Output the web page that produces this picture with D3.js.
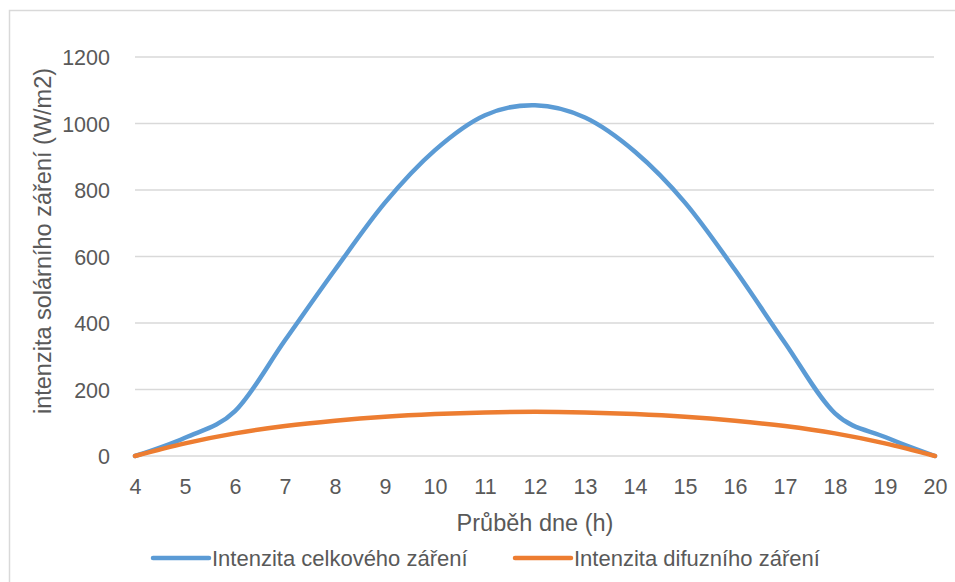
<!DOCTYPE html>
<html>
<head>
<meta charset="utf-8">
<script src="https://cdn.jsdelivr.net/npm/d3@7"></script>
<style>
  html, body { margin: 0; padding: 0; background: #fff; }
  svg { display: block; }
  text { font-family: "Liberation Sans", Arial, sans-serif; fill: #595959; }
</style>
</head>
<body>
<svg id="chart" width="955" height="582"></svg>
<script>
// ---- data ----
const hours = [4, 5, 6, 7, 8, 9, 10, 11, 12, 13, 14, 15, 16, 17, 18, 19, 20];
const totalRadiation = [0, 55, 135, 348, 560, 762, 920, 1025, 1055, 1018, 915, 762, 560, 340, 128, 57, 0];
const diffuseRadiation = [0, 38, 68, 90, 106, 118, 126, 131, 133, 131, 126, 118, 106, 90, 68, 38, 0];
const yTicks = [0, 200, 400, 600, 800, 1000, 1200];
const seriesNames = ["Intenzita celkového záření", "Intenzita difuzního záření"];
const seriesColors = ["#5B9BD5", "#ED7D31"];
const xTitle = "Průběh dne (h)";
const yTitle = "intenzita solárního záření (W/m2)";

// ---- layout ----
const svg = d3.select("#chart");
const x = d3.scaleLinear().domain([4, 20]).range([135, 935]);
const y = d3.scaleLinear().domain([0, 1200]).range([456, 57]);

// chart border (clipped on right/bottom like the reference)
svg.append("rect")
  .attr("x", 9.5).attr("y", 10.5).attr("width", 960).attr("height", 600)
  .attr("fill", "none").attr("stroke", "#D9D9D9").attr("stroke-width", 1.5);

// gridlines
svg.append("g").selectAll("line").data(yTicks).join("line")
  .attr("x1", x(4)).attr("x2", x(20) - 1)
  .attr("y1", d => y(d)).attr("y2", d => y(d))
  .attr("stroke", "#D9D9D9").attr("stroke-width", 1.5);

// y axis tick labels
const yAxis = d3.axisLeft(y).tickValues(yTicks).tickSize(0).tickPadding(0).tickFormat(d3.format("d"));
const gy = svg.append("g").attr("transform", "translate(110,0)").call(yAxis);
gy.select(".domain").remove();
gy.selectAll("text").style("font-size", "21.5px").attr("fill", "#595959")
  .attr("dy", "0.36em").attr("font-family", "Liberation Sans, Arial, sans-serif");

// x axis tick labels
const xAxis = d3.axisBottom(x).tickValues(hours).tickSize(0).tickPadding(0).tickFormat(d3.format("d"));
const gx = svg.append("g").attr("transform", "translate(0,479)").call(xAxis);
gx.select(".domain").remove();
gx.selectAll("text").style("font-size", "21.5px").attr("fill", "#595959")
  .attr("dy", "0.71em").attr("font-family", "Liberation Sans, Arial, sans-serif");

// axis titles
svg.append("text")
  .attr("transform", "translate(43,241) rotate(-90)")
  .attr("text-anchor", "middle").attr("dominant-baseline", "central")
  .style("font-size", "23.5px").text(yTitle);
svg.append("text")
  .attr("x", 535).attr("y", 531).attr("text-anchor", "middle")
  .style("font-size", "23.5px").text(xTitle);

// lines
const line = d3.line().x(d => x(d[0])).y(d => y(d[1])).curve(d3.curveCardinal.tension(0));
const series = [totalRadiation, diffuseRadiation];
series.forEach((vals, i) => {
  svg.append("path")
    .datum(hours.map((h, j) => [h, vals[j]]))
    .attr("fill", "none").attr("stroke", seriesColors[i])
    .attr("stroke-width", 4.5).attr("stroke-linejoin", "round").attr("stroke-linecap", "round")
    .attr("d", line);
});

// legend
const legendX = [153, 515];
seriesNames.forEach((name, i) => {
  const g = svg.append("g");
  g.append("line")
    .attr("x1", legendX[i]).attr("x2", legendX[i] + 56)
    .attr("y1", 558).attr("y2", 558)
    .attr("stroke", seriesColors[i]).attr("stroke-width", 4.5).attr("stroke-linecap", "round");
  g.append("text")
    .attr("x", legendX[i] + 59).attr("y", 566)
    .style("font-size", "22px").text(name);
});
</script>
</body>
</html>
